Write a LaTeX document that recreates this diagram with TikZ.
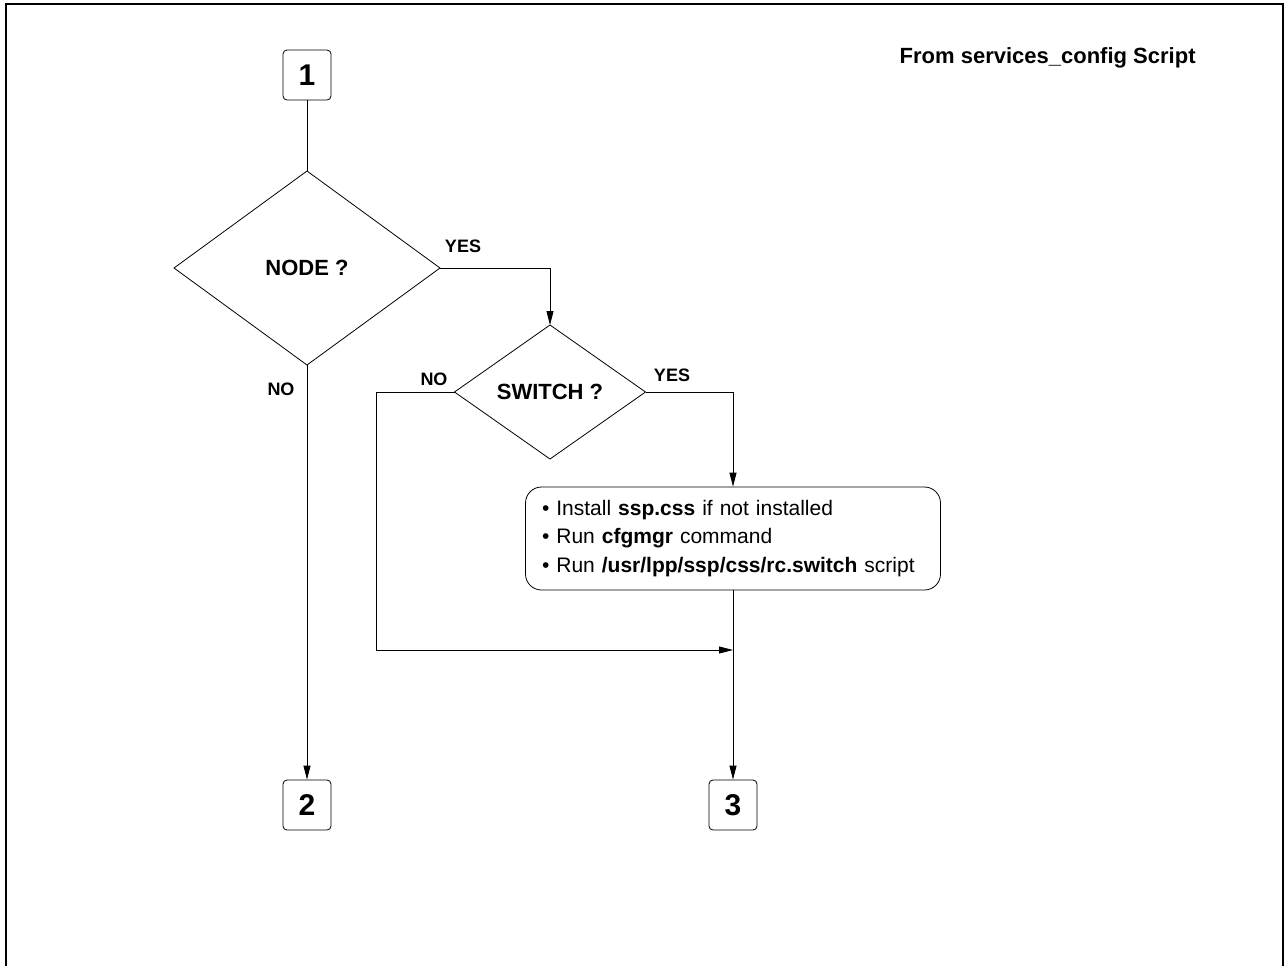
\documentclass[tikz,border=0pt]{standalone}
\usepackage{fontspec}
\setmainfont{Liberation Sans}
\usetikzlibrary{shapes.geometric,arrows.meta}

\begin{document}
\begin{tikzpicture}[x=0.5pt,y=-0.5pt,
    num/.style={draw,rounded corners=2pt,minimum width=24pt,minimum height=25pt,inner sep=0pt,
        font=\fontsize{15}{15}\selectfont\bfseries},
    decide/.style={draw,diamond,inner sep=0pt,outer sep=0pt,font=\fontsize{11}{13}\selectfont\bfseries},
    lab/.style={font=\fontsize{9}{10}\selectfont\bfseries},
    arr/.style={-{Triangle[length=7pt,width=3.5pt]}}]
    \useasboundingbox (0,0) rectangle (1286,966);
    %外框,下边不封口
    \draw[line width=1pt] (6,966)--(6,4)--(1283,4)--(1283,966);
    \node[font=\fontsize{11}{13}\selectfont\bfseries,anchor=east,inner sep=0pt] (title) at (1196,58) {From services\_config Script};

    \node[num] (n1) at (307,75) {1};
    \node[decide,minimum width=133pt,minimum height=97pt] (node) at (307,268) {NODE ?};
    \node[decide,minimum width=95.5pt,minimum height=67pt] (switch) at (550,392) {SWITCH ?};
    \node[draw,rounded corners=8pt,minimum width=207.5pt,minimum height=51.5pt,inner xsep=8pt,
        text width=191pt,align=left,font=\fontsize{10.5}{14.25}\selectfont] (css) at (733,538.5)
        {\textbullet\ Install \textbf{ssp.css} if not installed\\
         \textbullet\ Run \textbf{cfgmgr} command\\
         \textbullet\ Run \textbf{/usr/lpp/ssp/css/rc.switch} script};
    \node[num] (n2) at (307,805) {2};
    \node[num] (n3) at (733,805) {3};
    \coordinate (back) at (376,650);
    \coordinate (join) at (733,650);

    \draw (n1)--(node.north);
    \draw[arr] (node.south)--(n2.north);
    \draw[arr] (node.east)-|(switch.north);
    \draw[arr] (switch.east)-|(css.north);
    \draw[arr] (switch.west)-|(back)--(join);
    \draw[arr] (css.south)--(n3.north);

    \node[lab] (yes1) at (463,246) {YES};
    \node[lab] (no1) at (281,389) {NO};
    \node[lab] (no2) at (434,379) {NO};
    \node[lab] (yes2) at (672,375) {YES};
\end{tikzpicture}
\end{document}
